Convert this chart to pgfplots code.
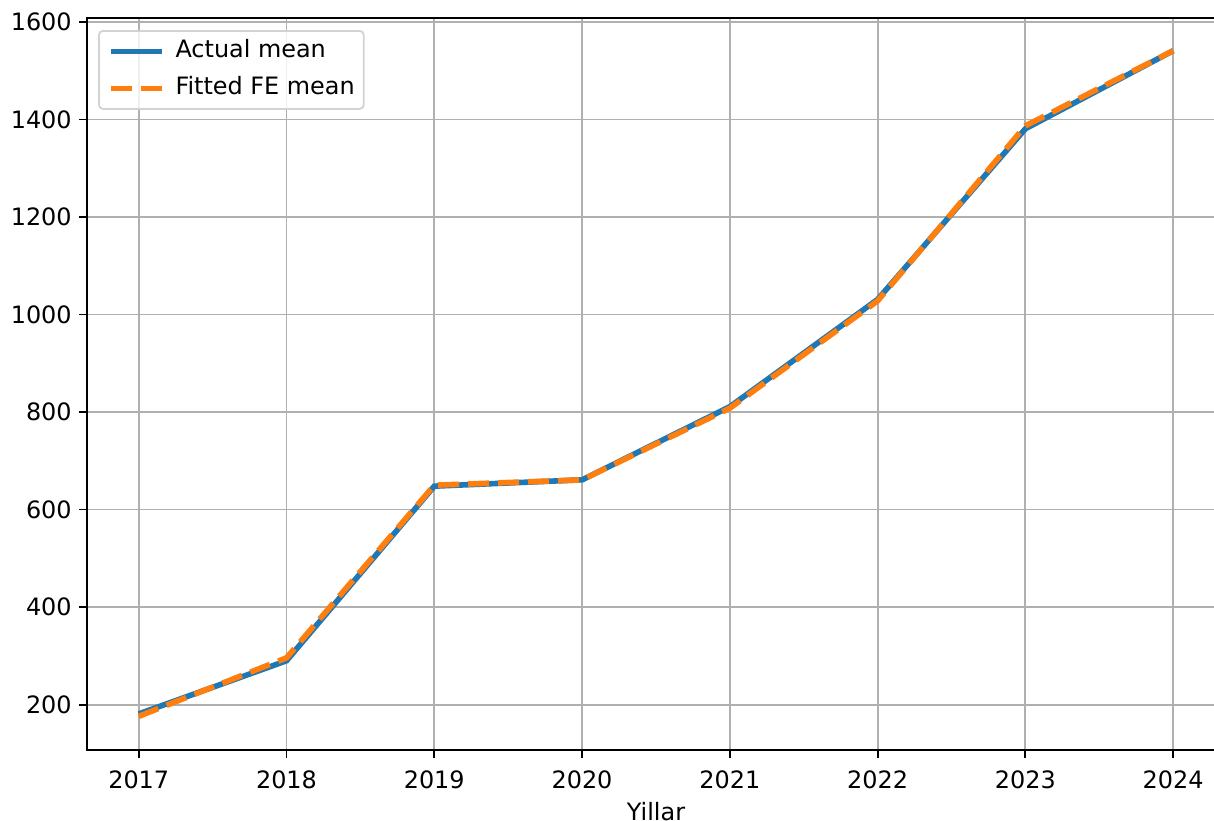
\documentclass[border=0pt]{standalone}
\usepackage{fontspec}
\setmainfont{DejaVu Sans}
\usepackage{pgfplots}
\pgfplotsset{compat=1.18}
\definecolor{mplblue}{HTML}{1F77B4}
\definecolor{mplorange}{HTML}{FF7F0E}
\definecolor{gridgray}{HTML}{B0B0B0}
\begin{document}
\begin{tikzpicture}
\clip (0,0) rectangle (607bp,410.5bp);
\begin{axis}[
  at={(43.5bp,35.5bp)}, anchor=origin,
  scale only axis, width=569bp, height=366bp,
  xmin=2016.65, xmax=2024.35,
  ymin=107, ymax=1608,
  xtick={2017,...,2024},
  ytick={200,400,...,1600},
  /pgf/number format/assume math mode=true,
  font=\fontsize{12}{14.4}\selectfont,
  ticklabel style={font=\fontsize{12}{14.4}\selectfont},
  yticklabel style={inner sep=0pt, xshift=-3.5bp, /pgf/number format/1000 sep={}},
  xticklabel style={inner sep=0pt, yshift=-6bp, /pgf/number format/1000 sep={}},
  tick align=outside, tick pos=left,
  major tick length=4bp,
  every tick/.style={black, line width=0.9bp},
  axis line style={line width=0.9bp},
  grid=major,
  major grid style={gridgray, line width=0.9bp},
  xlabel={Yillar},
  xlabel style={at={(axis description cs:0.5,0)}, anchor=north, yshift=-26bp, inner sep=0pt},
  legend cell align=left,
  legend style={at={(axis description cs:0.0097,0.9836)}, anchor=north west,
    draw=gray!35, line width=0.9bp, rounded corners=2bp, fill=white, fill opacity=0.8, text opacity=1,
    inner xsep=4.5bp, inner ysep=4.5bp, row sep=7bp,
    nodes={inner sep=0pt, text height=9bp, text depth=2.5bp},
    /tikz/every odd column/.append style={column sep=5.5bp},
    /tikz/every even column/.append style={column sep=6.5bp},
    font=\fontsize{12}{14.4}\selectfont},
  legend image code/.code={\draw[#1] (0bp,0bp) -- (25.5bp,0bp);},
]
\addplot[mplblue, line width=2.8bp] coordinates {
(2017,181) (2018,290) (2019,648) (2020,661) (2021,811) (2022,1031) (2023,1381) (2024,1541)};
\addlegendentry{Actual mean}
\addplot[mplorange, line width=2.8bp, dash pattern=on 10.5bp off 4.5bp] coordinates {
(2017,176) (2018,296) (2019,650) (2020,661) (2021,808) (2022,1028) (2023,1387) (2024,1541)};
\addlegendentry{Fitted FE mean}
\end{axis}
\end{tikzpicture}
\end{document}
